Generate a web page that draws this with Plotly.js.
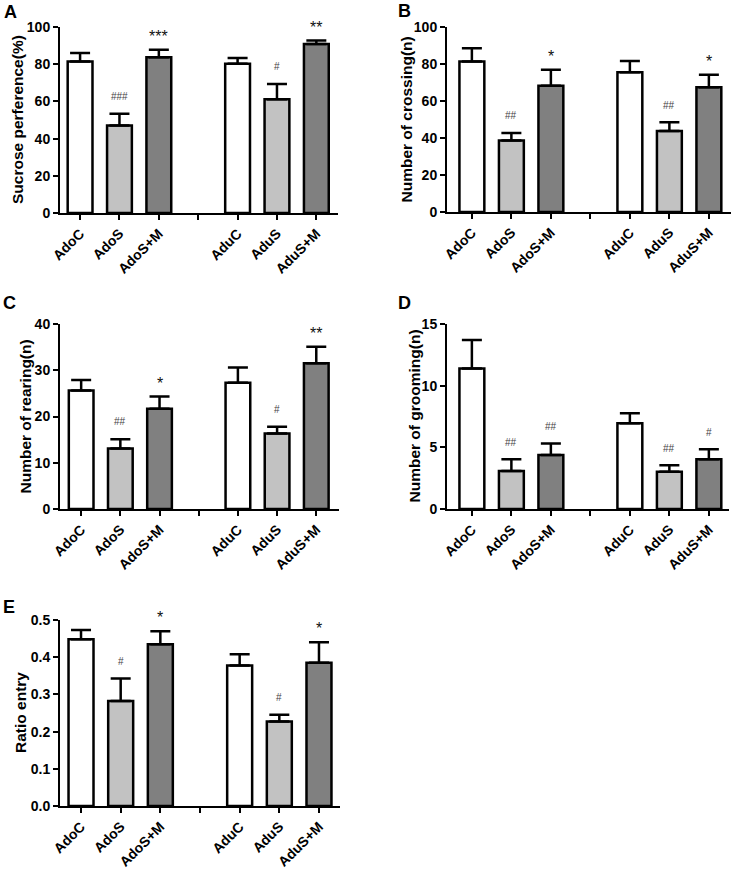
<!DOCTYPE html>
<html>
<head>
<meta charset="utf-8">
<script src="https://cdn.plot.ly/plotly-3.0.1.min.js"></script>
<style>html,body{margin:0;padding:0;background:#fff}</style>
</head>
<body>
<div id="chart" style="width:735px;height:869px"></div>
<script>
// ---- data ----
const categories = ["AdoC", "AdoS", "AdoS+M", "AduC", "AduS", "AduS+M"];

const sucroseMean = [81.5, 47.0, 83.7, 80.3, 61.1, 90.9];
const sucroseSem  = [4.5, 6.4, 4.1, 3.0, 8.3, 1.8];
const sucroseSig  = ["", "###", "***", "", "#", "**"];

const crossingMean = [81.4, 38.7, 68.3, 75.5, 43.8, 67.4];
const crossingSem  = [7.1, 4.0, 8.6, 6.1, 4.7, 6.8];
const crossingSig  = ["", "##", "*", "", "##", "*"];

const rearingMean = [25.6, 13.1, 21.7, 27.3, 16.3, 31.5];
const rearingSem  = [2.3, 2.0, 2.6, 3.3, 1.5, 3.6];
const rearingSig  = ["", "##", "*", "", "#", "**"];

const groomingMean = [11.4, 3.08, 4.38, 6.95, 3.03, 4.03];
const groomingSem  = [2.3, 0.95, 0.94, 0.81, 0.51, 0.81];
const groomingSig  = ["", "##", "##", "", "##", "#"];

const ratioMean = [0.448, 0.282, 0.435, 0.378, 0.227, 0.385];
const ratioSem  = [0.025, 0.061, 0.035, 0.030, 0.018, 0.055];
const ratioSig  = ["", "#", "*", "", "#", "*"];

const yTitles = ["Sucrose perference(%)", "Number of crossing(n)", "Number of rearing(n)", "Number of grooming(n)", "Ratio entry"];
const panelLetters = ["A", "B", "C", "D", "E"];

// ---- build ----
const fillColors = ["#ffffff", "#c2c2c2", "#808080"];
function withGap(arr) { return [arr[0], arr[1], arr[2], null, arr[3], arr[4], arr[5]]; }
const xCats = withGap(categories); xCats[3] = " ";

const panels = [
  {mean: sucroseMean, sem: sucroseSem, sig: sucroseSig, ymax: 100, dtick: 20, fmt: "",
   xd: [60, 338], yd: [27, 213], xr: [-0.51, 6.55], title: 17, letter: [10, 12]},
  {mean: crossingMean, sem: crossingSem, sig: crossingSig, ymax: 100, dtick: 20, fmt: "",
   xd: [447, 731], yd: [27, 212], xr: [-0.63, 6.56], title: 406, letter: [404, 11]},
  {mean: rearingMean, sem: rearingSem, sig: rearingSig, ymax: 40, dtick: 10, fmt: "",
   xd: [60, 339], yd: [324, 509], xr: [-0.54, 6.58], title: 25, letter: [9, 303]},
  {mean: groomingMean, sem: groomingSem, sig: groomingSig, ymax: 15, dtick: 5, fmt: "",
   xd: [447, 729], yd: [324, 509], xr: [-0.63, 6.51], title: 414, letter: [404, 303]},
  {mean: ratioMean, sem: ratioSem, sig: ratioSig, ymax: 0.5, dtick: 0.1, fmt: ".1f",
   xd: [60, 340], yd: [620, 806], xr: [-0.53, 6.53], title: 20, letter: [9, 607]}
];

const W = 735, H = 869;
const traces = [];
const layout = {
  width: W, height: H,
  margin: {l: 0, r: 0, t: 0, b: 0},
  paper_bgcolor: "#ffffff", plot_bgcolor: "#ffffff",
  showlegend: false,
  font: {family: "Arial, 'Liberation Sans', sans-serif", color: "#000"},
  annotations: []
};
const tickFont = {family: "Arial, 'Liberation Sans', sans-serif", size: 14, color: "#000", weight: "bold"};

panels.forEach((p, i) => {
  const n = i === 0 ? "" : String(i + 1);
  const xa = "x" + n, ya = "y" + n;
  traces.push({
    type: "bar",
    x: xCats,
    y: withGap(p.mean),
    xaxis: xa, yaxis: ya,
    width: 0.63,
    cliponaxis: false,
    marker: {color: withGap([fillColors[0], fillColors[1], fillColors[2], fillColors[0], fillColors[1], fillColors[2]]),
             line: {color: "#000", width: 2.5}},
    error_y: {type: "data", symmetric: false, array: withGap(p.sem), arrayminus: withGap([0,0,0,0,0,0]),
              color: "#000", thickness: 2.5, width: 10},
    hoverinfo: "skip"
  });
  layout["xaxis" + n] = {
    domain: [p.xd[0] / W, p.xd[1] / W],
    anchor: ya, type: "category", categoryorder: "array", categoryarray: xCats,
    range: p.xr, showline: true, linecolor: "#000", linewidth: 2,
    ticks: "outside", ticklen: 5, tickwidth: 2, tickcolor: "#000",
    tickangle: -45, tickfont: tickFont, showgrid: false, zeroline: false, fixedrange: true
  };
  layout["yaxis" + n] = {
    domain: [1 - p.yd[1] / H, 1 - p.yd[0] / H],
    anchor: xa, range: [0, p.ymax], dtick: p.dtick, tick0: 0, tickformat: p.fmt,
    showline: true, linecolor: "#000", linewidth: 2,
    ticks: "outside", ticklen: 5, tickwidth: 2, tickcolor: "#000",
    tickfont: tickFont, showgrid: false, zeroline: false, fixedrange: true
  };
  // y title
  layout.annotations.push({
    xref: "paper", yref: "paper", x: p.title / W, y: 1 - (p.yd[0] + p.yd[1]) / 2 / H,
    text: yTitles[i], textangle: -90, showarrow: false, xanchor: "center", yanchor: "middle",
    font: {size: 15.5, color: "#000", weight: "bold"}
  });
  // panel letter
  layout.annotations.push({
    xref: "paper", yref: "paper", x: p.letter[0] / W, y: 1 - p.letter[1] / H,
    text: panelLetters[i], showarrow: false, xanchor: "center", yanchor: "middle",
    font: {size: 18, color: "#000", weight: "bold"}
  });
  // significance marks (y given as fraction of the y-axis domain so marks above the range stay visible)
  p.sig.forEach((s, k) => {
    if (!s) return;
    const star = s.indexOf("*") >= 0;
    layout.annotations.push({
      xref: xa, yref: ya + " domain", x: categories[k],
      y: (p.mean[k] + p.sem[k]) / p.ymax + (star ? 0.072 : 0.093),
      text: s, showarrow: false, xanchor: "center", yanchor: "middle",
      font: star ? {size: 16, color: "#111"} : {size: 10, color: "#444"}
    });
  });
});

Plotly.newPlot("chart", traces, layout, {staticPlot: true, displayModeBar: false});
</script>
</body>
</html>
